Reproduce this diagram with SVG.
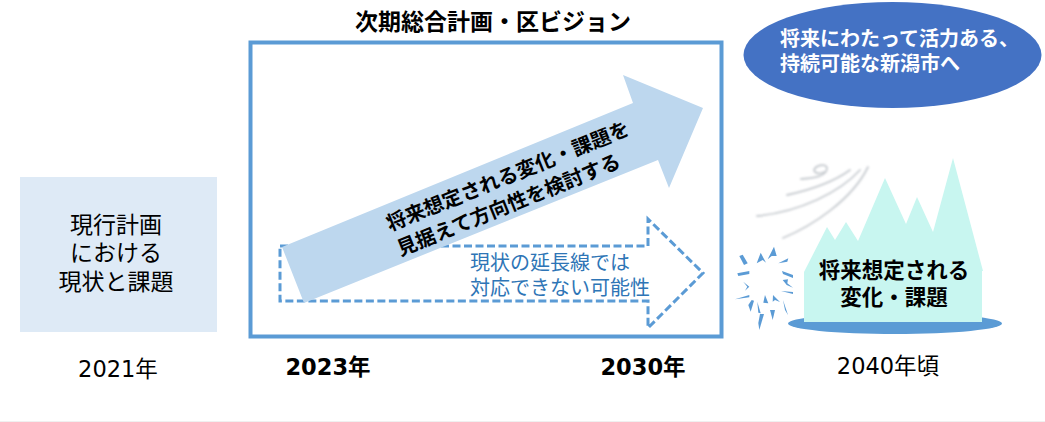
<svg xmlns="http://www.w3.org/2000/svg" width="1045" height="422" viewBox="0 0 1045 422">
<style>
text{font-family:"DejaVu Sans","Noto Sans CJK JP",sans-serif;fill:#000}
.jp{font-family:"Noto Sans CJK JP",sans-serif}
.b{font-weight:700}
.c{text-anchor:middle}
.year{font-size:22.500px}
</style>
<defs>
<filter id="soft" x="-10%" y="-30%" width="120%" height="160%"><feGaussianBlur stdDeviation="0.8"/></filter>
</defs>
<rect width="1045" height="422" fill="#fff"/>
<line x1="0" y1="421.5" x2="1045" y2="421.5" stroke="#f0f0f0"/>

<g id="current-plan">
<rect x="20" y="177" width="197" height="155" fill="#deeaf6"/>
<text class="jp c" x="116" y="233" font-size="23">現行計画</text>
<text class="jp c" x="116" y="261" font-size="23">における</text>
<text class="jp c" x="116" y="290" font-size="23">現状と課題</text>
<text class="year c" x="118" y="377">2021年</text>
</g>

<g id="vision-frame">
<text class="jp b c" x="493" y="30" font-size="23">次期総合計画・区ビジョン</text>
<rect x="250.500" y="42.500" width="471" height="294" fill="#fff" stroke="#5b9bd5" stroke-width="4"/>
<text class="year b c" x="328" y="375">2023年</text>
<text class="year b c" x="643" y="375">2030年</text>
</g>

<g id="connectors">
<path id="trend-arrow" d="M280 246H648V219L703 273L648 328V301H280Z" fill="none" stroke="#5b9bd5" stroke-width="3" stroke-dasharray="8 3.500"/>
<path id="plan-arrow" d="M282 247L633 103L623 75L703 108L669 188L658 160L304 303Z" fill="#bdd7ee"/>
</g>

<g id="trend-label">
<text class="jp" x="470" y="270" font-size="20" style="fill:#2e75b6">現状の延長線では</text>
<text class="jp" x="470" y="295" font-size="20" style="fill:#2e75b6">対応できない可能性</text>
</g>

<g id="plan-label" transform="rotate(-22 507 190)">
<text class="jp b c" x="513" y="184.500" font-size="20">将来想定される変化・課題を</text>
<text class="jp b c" x="503" y="211.500" font-size="20">見据えて方向性を検討する</text>
</g>

<g id="goal">
<ellipse cx="892.500" cy="55" rx="149" ry="53" fill="#4472c4"/>
<text class="jp b" x="780" y="46" font-size="20" style="fill:#fff">将来にわたって活力ある、</text>
<text class="jp b" x="780" y="71" font-size="20" style="fill:#fff">持続可能な新潟市へ</text>
</g>

<g id="wind" fill="none" stroke="#c8ccd0" stroke-width="1.800" stroke-linecap="round" filter="url(#soft)">
<path d="M757 216C800 212 840 192 860 170"/>
<path d="M787 195C810 190 835 181 850 170"/>
<path d="M783 238C812 226 852 200 868 167"/>
<path d="M801 179C815 178 827 176 827 168C826 163 816 165 814 170C815 174 820 174 824 172"/>
</g>

<g id="future-issues">
<ellipse cx="895" cy="323.500" rx="107" ry="10.500" fill="#5b9bd5"/>
<path d="M804 322V272L827 227L835 240L846 222L858 241L885 178L906 224L917 197L933 232L953 158L983 271H982V322Z" fill="#c8f6f0"/>
<text class="jp b c" x="894" y="278" font-size="21.500">将来想定される</text>
<text class="jp b c" x="894" y="305" font-size="21.500">変化・課題</text>
<text class="year c" x="888" y="374">2040年頃</text>
</g>

<g id="burst" fill="#5b9bd5">
<path d="M739.300 256L742.700 254.700L747.700 263.300L744 265Z"/>
<path d="M756.700 263.300L760.700 252.700L766 262.700L762.700 260L759 262Z"/>
<path d="M767.700 259.300L774 246.700L776.700 256L771.700 256Z"/>
<path d="M778.300 263.300L788.300 258.300L787.300 261.700Z"/>
<path d="M782 271L793 275V278L783 274Z"/>
<path d="M782.700 280L788 279.300L787.300 283.300L793 287.700L786.700 285Z"/>
<path d="M781 291L793 292V294Z"/>
<path d="M783 300L788 315L785 310Z"/>
<path d="M773 295L780 302L775 300L772.700 301.700Z"/>
<path d="M765 295L768.300 303.300L763.300 302.700Z"/>
<path d="M757.300 301.700L760.700 313.300L758.300 312.700Z"/>
<path d="M751.700 300L754 300.700L750.700 311.700L748.300 305Z"/>
<path d="M770 310L775 310L772.700 320Z"/>
<path d="M760 314L764 314L759.300 330L758.300 323Z"/>
<path d="M735 299.300L749.300 295V297.300Z"/>
<path d="M737.300 273.300L749.300 271V274L738.300 276Z"/>
<path d="M743.300 281.700L749.300 286.700L745 290.700L747.300 286.700Z"/>
</g>
</svg>
